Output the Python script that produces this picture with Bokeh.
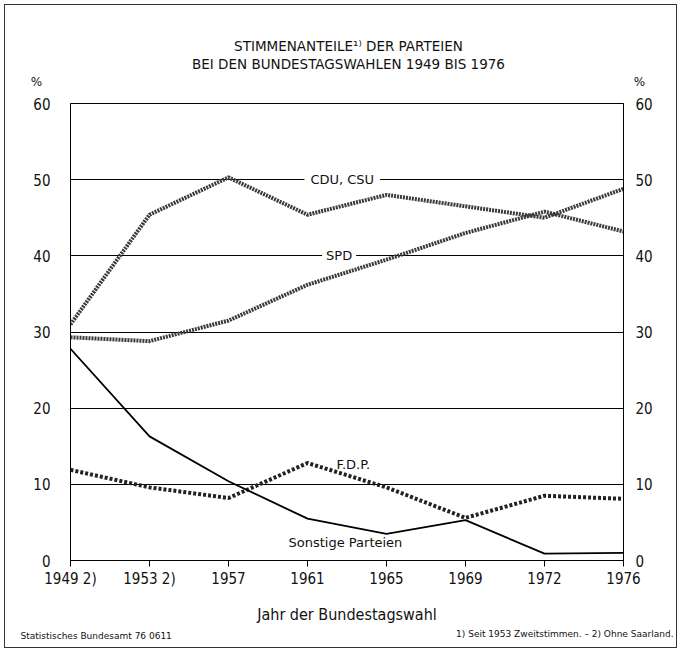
from bokeh.plotting import figure
from bokeh.layouts import column
from bokeh.models import Range1d, LinearAxis, FixedTicker, Label, ColumnDataSource
from bokeh.embed import file_html
from bokeh.resources import INLINE

years = ["1949 2)", "1953 2)", "1957", "1961", "1965", "1969", "1972", "1976"]
cdu_csu = [31.0, 45.4, 50.3, 45.4, 48.0, 46.5, 45.0, 48.8]
spd = [29.3, 28.8, 31.5, 36.2, 39.5, 43.0, 45.8, 43.2]
fdp = [11.9, 9.6, 8.2, 12.8, 9.6, 5.6, 8.5, 8.1]
sonstige = [27.8, 16.3, 10.4, 5.5, 3.5, 5.3, 0.9, 1.0]
y_ticks = [0, 10, 20, 30, 40, 50, 60]

title_1 = "STIMMENANTEILE\u00b9\u207e DER PARTEIEN"
title_2 = "BEI DEN BUNDESTAGSWAHLEN 1949 BIS 1976"
source_note = "Statistisches Bundesamt 76 0611"
footnote = "1) Seit 1953 Zweitstimmen. \u2013 2) Ohne Saarland."

NARROW = "Liberation Sans Narrow, DejaVu Sans Condensed, Roboto, sans-serif"
SANS = "DejaVu Sans"
W = 671
H_HEAD = 88
H_MAIN = 533
H_FOOT = 21


def text_panel(h):
    f = figure(width=W, height=h, x_range=Range1d(0, W), y_range=Range1d(0, h),
               output_backend="svg", toolbar_location=None, title=None,
               x_axis_location=None, y_axis_location=None, min_border=0,
               frame_align=False)
    f.min_border_left = 0
    f.min_border_right = 0
    f.min_border_top = 0
    f.min_border_bottom = 0
    f.xgrid.visible = False
    f.ygrid.visible = False
    f.outline_line_color = None
    f.background_fill_color = "white"
    f.border_fill_color = "white"
    return f


def lab(fig, x, y, text, size, font=SANS, bg=None, align="center", pad=0):
    kw = {}
    if bg:
        kw["background_fill_color"] = bg
    fig.add_layout(Label(x=x, y=y, text=text, text_align=align, text_baseline="middle",
                         text_font=font, text_font_size=size, text_color="#111",
                         padding=pad, **kw))


# ---------- header (title, % signs)
head = text_panel(H_HEAD)
lab(head, 343, 48, title_1, "13.5px")
lab(head, 343, 30, title_2, "13.5px")
lab(head, 31, 12, "%", "12px")
lab(head, 634, 12, "%", "12px")

# ---------- main chart
xs = list(range(len(years)))
src = ColumnDataSource(dict(x=xs, cdu=cdu_csu, spd=spd, fdp=fdp, son=sonstige))

p = figure(width=W, height=H_MAIN, x_range=Range1d(0, len(years) - 1), y_range=Range1d(0, 60),
           output_backend="svg", toolbar_location=None, title=None, frame_align=False,
           min_border_left=65, min_border_right=53, min_border_top=10, min_border_bottom=66)
p.background_fill_color = "white"
p.border_fill_color = "white"
p.outline_line_color = "black"
p.outline_line_width = 1

p.xgrid.visible = False
p.ygrid.ticker = FixedTicker(ticks=y_ticks)
p.ygrid.grid_line_color = "black"
p.ygrid.grid_line_width = 1

xa = p.xaxis[0]
xa.ticker = FixedTicker(ticks=xs)
xa.major_label_overrides = {i: y for i, y in enumerate(years)}
xa.major_tick_out = 6
xa.major_tick_in = 0
xa.minor_tick_out = 0
xa.minor_tick_in = 0
xa.axis_line_color = "black"
xa.major_tick_line_color = "black"
xa.major_label_text_font = NARROW
xa.major_label_text_font_size = "15px"
xa.major_label_text_color = "#111"
xa.major_label_standoff = 3
xa.axis_label = "Jahr der Bundestagswahl"
xa.axis_label_text_font = NARROW
xa.axis_label_text_font_size = "16px"
xa.axis_label_text_font_style = "normal"
xa.axis_label_text_color = "#111"
xa.axis_label_standoff = 14


def style_y(ax, standoff):
    ax.ticker = FixedTicker(ticks=y_ticks)
    ax.major_tick_out = 0
    ax.major_tick_in = 0
    ax.minor_tick_out = 0
    ax.minor_tick_in = 0
    ax.axis_line_color = "black"
    ax.major_label_text_font = NARROW
    ax.major_label_text_font_size = "15px"
    ax.major_label_text_color = "#111"
    ax.major_label_standoff = standoff


style_y(p.yaxis[0], 20)
ra = LinearAxis()
style_y(ra, 12)
p.add_layout(ra, "right")

p.line("x", "cdu", source=src, line_color="#3a3a3a", line_width=4, line_dash="2 1")
p.line("x", "spd", source=src, line_color="#3a3a3a", line_width=4, line_dash="2 1")
p.line("x", "fdp", source=src, line_color="#222222", line_width=4, line_dash="3 2")
p.line("x", "son", source=src, line_color="black", line_width=1.8)

lab(p, 3.44, 50, "CDU, CSU", "13px", bg="white", pad=6)
lab(p, 3.40, 40, "SPD", "13px", bg="white", pad=4)
lab(p, 3.58, 12.6, "F.D.P.", "13px")
lab(p, 3.48, 2.4, "Sonstige Parteien", "13px")

# ---------- footer (source, footnotes)
foot = text_panel(H_FOOT)
lab(foot, 15, 12, source_note, "9px", align="left")
lab(foot, 668, 14, footnote, "9px", align="right")

layout = column(head, p, foot, spacing=0)
layout.styles = {"border": "1px solid #333", "margin": "4px"}

open("out.html", "w").write(file_html(layout, INLINE))
